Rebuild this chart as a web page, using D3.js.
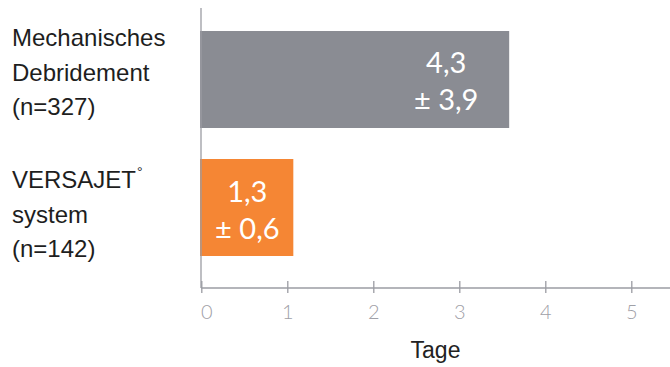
<!DOCTYPE html>
<html><head><meta charset="utf-8">
<script src="https://cdn.jsdelivr.net/npm/d3@7"></script>
<style>
html,body{margin:0;padding:0;background:#fff;}
svg{display:block;}
</style></head>
<body>
<svg id="chart" width="670" height="367"></svg>
<script>
// Data
const categories = [
  ["Mechanisches", "Debridement", "(n=327)"],
  ["VERSAJET\u00B0", "system", "(n=142)"]
];
const barValues = [3.58, 1.07];        // bar lengths as drawn (Tage)
const meanLabels = ["4,3", "1,3"];
const sdLabels = ["\u00B1 3,9", "\u00B1 0,6"];
const barColors = ["#8a8c93", "#f58634"];
const tickValues = [0, 1, 2, 3, 4, 5];
const axisTitle = "Tage";

const svg = d3.select("#chart");
const x = d3.scaleLinear().domain([0, 5]).range([201.3, 631.3]);
const y = d3.scaleBand().domain([0, 1]).range([31, 256]).paddingInner(0.2422).paddingOuter(0);

const axisY = 288;
const axisColor = "#9b9ca3";

// bars
svg.selectAll("rect.bar").data(barValues).enter().append("rect")
  .attr("class", "bar")
  .attr("x", x(0) - 1.3)
  .attr("y", (d, i) => y(i))
  .attr("width", d => x(d) - x(0) + 1.3)
  .attr("height", y.bandwidth())
  .attr("fill", (d, i) => barColors[i]);

// vertical axis line
svg.append("line").attr("x1", 201).attr("x2", 201).attr("y1", 8).attr("y2", axisY)
  .attr("stroke", axisColor).attr("stroke-width", 1.3);

// x axis
const xAxis = d3.axisBottom(x).tickValues(tickValues).tickFormat(d3.format("d")).tickSize(0).tickPadding(0);
const gx = svg.append("g").attr("transform", `translate(0,${axisY})`).call(xAxis);
gx.select(".domain").remove();
gx.append("line").attr("x1", x(0)).attr("x2", 670).attr("y1", 0).attr("y2", 0)
  .attr("stroke", axisColor).attr("stroke-width", 1.3);
gx.selectAll(".tick").append("line").attr("y1", -7).attr("y2", 5)
  .attr("stroke", axisColor).attr("stroke-width", 1.3);
gx.selectAll(".tick text")
  .attr("y", 30.5).attr("dy", null)
  .attr("dx", d => d === 0 ? 5 : 0)
  .attr("fill", "#9fa0a7")
  .style("font-family", "Lato, 'Open Sans', sans-serif")
  .style("font-weight", 300)
  .style("font-size", "20px");

// axis title
svg.append("text").attr("x", 435.5).attr("y", 358).attr("text-anchor", "middle")
  .style("font-family", "'Liberation Sans', Arial, sans-serif")
  .style("font-size", "23px").attr("fill", "#222")
  .text(axisTitle);

// category labels (first-line baseline offset from bar top differs per group)
const labelOffsets = [15, 29];
const catG = svg.selectAll("g.cat").data(categories).enter().append("g").attr("class", "cat");
catG.each(function(lines, i) {
  const g = d3.select(this);
  const first = y(i) + labelOffsets[i];
  lines.forEach((ln, j) => {
    const t = g.append("text")
      .attr("x", 12)
      .attr("y", first + j * 34.5)
      .style("font-family", "'Liberation Sans', Arial, sans-serif")
      .style("font-size", "24px")
      .attr("fill", "#1e1e1e");
    if (ln.endsWith("\u00B0")) {
      t.text(ln.slice(0, -1));
      t.append("tspan").attr("dx", 1).attr("dy", -11).style("font-size", "14px").text("\u00B0");
    } else {
      t.text(ln);
    }
  });
});

// value labels inside bars
const labelX = (d, i) => i === 0 ? x(d) - 63 : (x(0) + x(d)) / 2;
const labelFont = sel => sel
  .attr("text-anchor", "middle")
  .attr("fill", "#fff")
  .style("font-family", "Lato, 'Open Sans', sans-serif")
  .style("font-weight", 400)
  .style("font-size", "29px");
svg.selectAll("text.mean").data(barValues).enter().append("text")
  .attr("class", "mean")
  .attr("x", labelX)
  .attr("y", (d, i) => y(i) + y.bandwidth() / 2 - 6)
  .call(labelFont)
  .text((d, i) => meanLabels[i]);
svg.selectAll("text.sd").data(barValues).enter().append("text")
  .attr("class", "sd")
  .attr("x", labelX)
  .attr("y", (d, i) => y(i) + y.bandwidth() / 2 + 31)
  .call(labelFont)
  .text((d, i) => sdLabels[i]);
</script>
</body></html>
